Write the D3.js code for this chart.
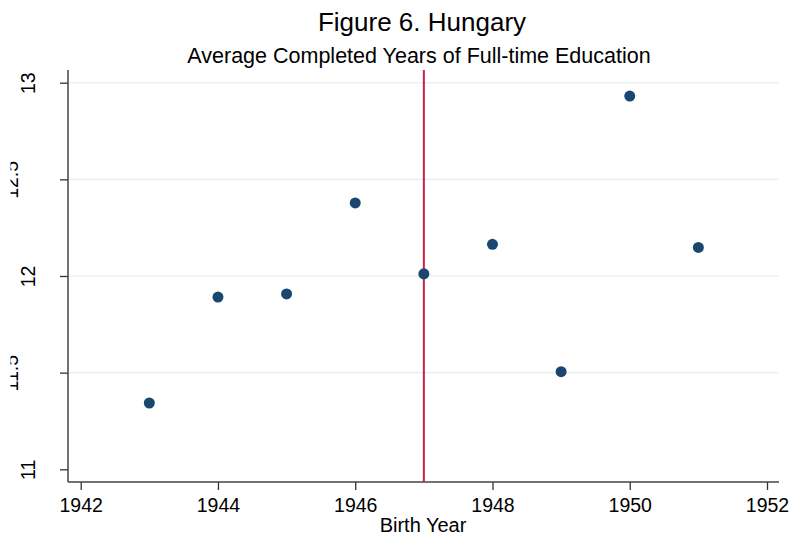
<!DOCTYPE html>
<html>
<head>
<meta charset="utf-8">
<script src="https://cdn.jsdelivr.net/npm/d3@7"></script>
<style>
  body { margin: 0; background: #fff; }
  svg { display: block; font-family: "Liberation Sans", Arial, sans-serif; }
</style>
</head>
<body>
<div id="chart"></div>
<script>
const years = [1943, 1944, 1945, 1946, 1947, 1948, 1949, 1950, 1951];
const eduYears = [11.343, 11.891, 11.907, 12.378, 12.011, 12.164, 11.505, 12.931, 12.148];
const xTicks = [1942, 1944, 1946, 1948, 1950, 1952];
const yTicks = [11, 11.5, 12, 12.5, 13];
const yGrid = [11.5, 12, 12.5, 13];
const cutoffYear = 1947;

const W = 791, H = 540;
const plot = { left: 68, right: 779, top: 70, bottom: 482 };

const svg = d3.select("#chart").append("svg")
  .attr("width", W).attr("height", H);

const x = d3.scaleLinear().domain([1942, 1952]).range([80.7, 767]);
const y = d3.scaleLinear().domain([11, 13]).range([469.3, 82.7]);

// titles
svg.append("text")
  .attr("x", 422).attr("y", 31)
  .attr("text-anchor", "middle")
  .style("font-size", "26px")
  .style("fill", "#000")
  .text("Figure 6. Hungary");

svg.append("text")
  .attr("x", 419).attr("y", 63)
  .attr("text-anchor", "middle")
  .style("font-size", "21.5px")
  .style("fill", "#000")
  .text("Average Completed Years of Full-time Education");

// gridlines
svg.append("g")
  .selectAll("line")
  .data(yGrid)
  .enter().append("line")
  .attr("x1", plot.left).attr("x2", plot.right)
  .attr("y1", d => y(d)).attr("y2", d => y(d))
  .attr("stroke", "#eaf1f4")
  .attr("stroke-width", 1.6);

// y axis
const yAxis = svg.append("g")
  .attr("transform", `translate(${plot.left},0)`)
  .call(d3.axisLeft(y).tickValues(yTicks).tickSize(8).tickFormat(d3.format("")));
yAxis.select(".domain").remove();
yAxis.selectAll(".tick line").attr("stroke", "#333").attr("stroke-width", 1.3);
yAxis.selectAll(".tick text")
  .attr("transform", "rotate(-90)")
  .attr("x", 0).attr("y", -33).attr("dy", 0)
  .attr("text-anchor", "middle")
  .style("font-size", "19.5px")
  .style("font-family", "\"Liberation Sans\", Arial, sans-serif")
  .style("fill", "#000");

// half-unit labels sit further left and are cut off at the graph edge
svg.append("clipPath").attr("id", "halfclip")
  .append("rect").attr("x", 10.5 - plot.left).attr("y", -40).attr("width", plot.left).attr("height", 80);
yAxis.selectAll(".tick")
  .filter(d => d % 1 !== 0)
  .each(function () {
    const tick = d3.select(this);
    const wrap = tick.append("g").attr("clip-path", "url(#halfclip)");
    const t = tick.select("text").attr("y", -50);
    wrap.node().appendChild(t.node());
  });

// x axis
const xAxis = svg.append("g")
  .attr("transform", `translate(0,${plot.bottom})`)
  .call(d3.axisBottom(x).tickValues(xTicks).tickSize(8).tickPadding(8).tickFormat(d3.format("")));
xAxis.select(".domain").remove();
xAxis.selectAll(".tick line").attr("stroke", "#333").attr("stroke-width", 1.3);
xAxis.selectAll(".tick text")
  .style("font-size", "19.5px")
  .style("font-family", "\"Liberation Sans\", Arial, sans-serif")
  .style("fill", "#000");

// axis lines
svg.append("line")
  .attr("x1", plot.left).attr("x2", plot.left)
  .attr("y1", plot.top).attr("y2", plot.bottom)
  .attr("stroke", "#444").attr("stroke-width", 1.5);
svg.append("line")
  .attr("x1", plot.left).attr("x2", plot.right)
  .attr("y1", plot.bottom).attr("y2", plot.bottom)
  .attr("stroke", "#444").attr("stroke-width", 1.5);

svg.append("text")
  .attr("x", 423).attr("y", 532)
  .attr("text-anchor", "middle")
  .style("font-size", "20px")
  .style("fill", "#000")
  .text("Birth Year");

// cutoff line
svg.append("line")
  .attr("x1", x(cutoffYear)).attr("x2", x(cutoffYear))
  .attr("y1", plot.top).attr("y2", plot.bottom)
  .attr("stroke", "#cc1f4a").attr("stroke-width", 2);

// points
svg.append("g")
  .selectAll("circle")
  .data(years.map((yr, i) => ({ yr, v: eduYears[i] })))
  .enter().append("circle")
  .attr("cx", d => x(d.yr))
  .attr("cy", d => y(d.v))
  .attr("r", 5.5)
  .attr("fill", "#1a476f");
</script>
</body>
</html>
